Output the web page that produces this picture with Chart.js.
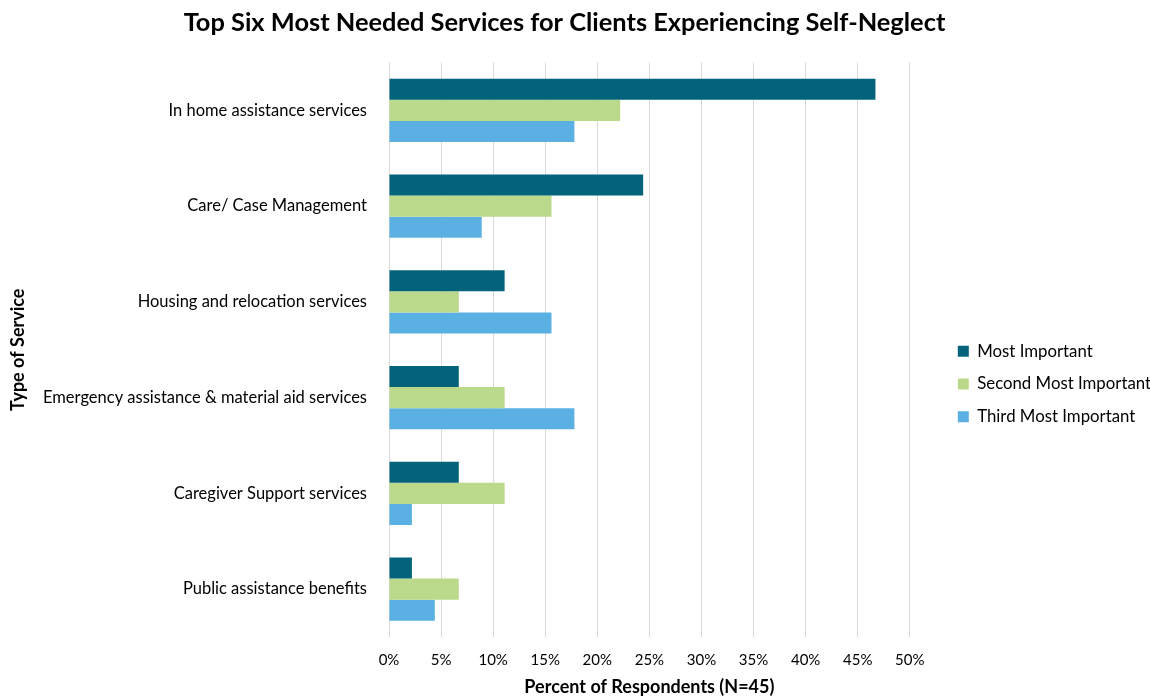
<!DOCTYPE html>
<html>
<head>
<meta charset="utf-8">
<script src="https://cdn.jsdelivr.net/npm/chart.js@4"></script>
<style>
  html, body { margin: 0; padding: 0; background: #fff; }
  #wrap { width: 1150px; height: 698px; }
</style>
</head>
<body>
<div id="wrap"><canvas id="servicesChart" width="1150" height="698"></canvas></div>
<script>
// Services ranked by respondents (N=45), values in percent
const services = [
    'In home assistance services',
    'Care/ Case Management',
    'Housing and relocation services',
    'Emergency assistance & material aid services',
    'Caregiver Support services',
    'Public assistance benefits'
];
const mostImportant = [46.7, 24.4, 11.1, 6.7, 6.7, 2.2];
const secondMostImportant = [22.2, 15.6, 6.7, 11.1, 11.1, 6.7];
const thirdMostImportant = [17.8, 8.9, 15.6, 17.8, 2.2, 4.4];
const percentTicks = [0, 5, 10, 15, 20, 25, 30, 35, 40, 45, 50];

const fontFamily = 'Lato, "Open Sans", sans-serif';
Chart.defaults.font.family = fontFamily;
Chart.defaults.color = '#000';

// Nudge the legend after layout so it sits a bit away from the plot
const legendOffset = {
    id: 'legendOffset',
    afterLayout(chart, args, opts) {
        const lg = chart.legend;
        if (!lg) return;
        lg.left += opts.x; lg.right += opts.x;
        lg.top += opts.y; lg.bottom += opts.y;
    }
};

const ctx = document.getElementById('servicesChart').getContext('2d');
const servicesChart = new Chart(ctx, {
    type: 'bar',
    data: {
        labels: services,
        datasets: [
            {
                label: 'Most Important',
                data: mostImportant,
                backgroundColor: '#03637a',
            },
            {
                label: 'Second Most Important',
                data: secondMostImportant,
                backgroundColor: '#bbd98b',
            },
            {
                label: 'Third Most Important',
                data: thirdMostImportant,
                backgroundColor: '#5bb0e3',
            },
        ],
    },
    plugins: [legendOffset],
    options: {
        indexAxis: 'y',
        responsive: false,
        animation: false,
        categoryPercentage: 0.66,
        barPercentage: 1.0,
        layout: {
            padding: { left: 0, right: 21, top: 0, bottom: 0 }
        },
        plugins: {
            title: {
                display: true,
                text: 'Top Six Most Needed Services for Clients Experiencing Self-Neglect',
                font: { size: 25.4, weight: 'bold' },
                color: '#000',
                padding: { top: 8, bottom: 24 },
            },
            legend: {
                position: 'right',
                labels: {
                    boxWidth: 11,
                    boxHeight: 11,
                    padding: 16,
                    font: { size: 16.8 },
                    color: '#000',
                },
            },
            legendOffset: { x: 32, y: 35 },
            tooltip: { enabled: false },
        },
        scales: {
            x: {
                min: 0,
                max: 50,
                afterBuildTicks: (axis) => {
                    axis.ticks = percentTicks.map(v => ({ value: v }));
                },
                afterFit: (axis) => { axis.height = 61; },
                ticks: {
                    callback: (v) => v + '%',
                    font: { size: 15 },
                    color: '#000',
                    padding: 14,
                    maxRotation: 0,
                },
                grid: {
                    color: '#d9d9d9',
                    drawTicks: false,
                },
                border: { display: false },
                title: {
                    display: true,
                    text: 'Percent of Respondents (N=45)',
                    font: { size: 18, weight: 'bold' },
                    color: '#000',
                    padding: { top: 0, bottom: 0 },
                },
            },
            y: {
                afterFit: (axis) => { axis.width = 389; },
                ticks: {
                    font: { size: 16.5 },
                    color: '#000',
                    padding: 22,
                },
                grid: { display: false, drawTicks: false },
                border: { display: false },
                title: {
                    display: true,
                    text: 'Type of Service',
                    font: { size: 18, weight: 'bold' },
                    color: '#000',
                    padding: { top: 7, bottom: 0 },
                },
            },
        },
    },
});
</script>
</body>
</html>
